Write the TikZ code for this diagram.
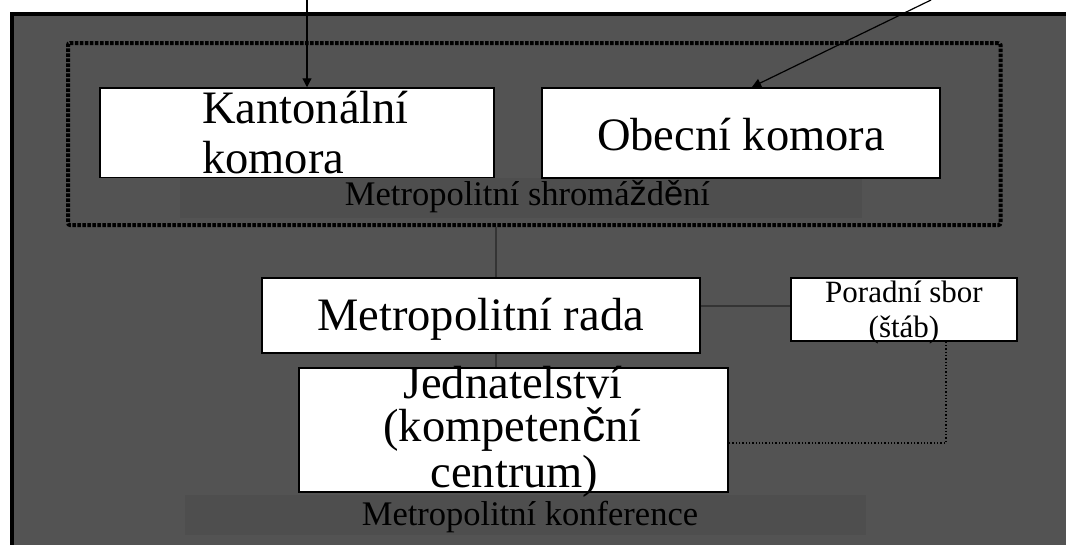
\documentclass[tikz,border=0pt]{standalone}
\usepackage{fontspec}
\setmainfont{Liberation Serif}
\newfontfamily\sansx{Liberation Sans}
\usetikzlibrary{arrows.meta}
\definecolor{bggray}{HTML}{535353}
\definecolor{bandgray}{HTML}{4E4E4E}
\definecolor{conngray}{HTML}{343434}
\newcommand\fbig{\fontsize{46.5}{50}\selectfont}
\newcommand\fmid{\fontsize{34.5}{38}\selectfont}
\newcommand\fsml{\fontsize{31}{35}\selectfont}
\begin{document}
\begin{tikzpicture}[x=1pt,y=-1pt,
  box/.style={draw=black, fill=white, line width=1.5pt, inner sep=0pt},
  assembly/.style={draw=black, line width=4pt, dash pattern=on 3.5pt off 1.5pt, rounded corners=2pt, inner sep=0pt},
  txt/.style={anchor=base, inner sep=0pt, text=black},
  arr/.style={draw=black, line width=1.2pt, -{Triangle[length=9pt,width=9pt]}},
  conn/.style={draw=conngray, line width=2pt},
  thin dots/.style={draw=black, line width=1.3pt, dotted}]
\useasboundingbox (0,0) rectangle (1066,544);
\clip (0,0) rectangle (1066,544);
\fill[white] (0,0) rectangle (1066,544);
\draw[line width=4pt, fill=bggray] (12,14) rectangle (1100,600);
% label bands
\fill[bandgray] (180,178) rectangle (862,218);
\fill[bandgray] (185,495) rectangle (866,535);
% dotted assembly frame
\node[assembly, minimum width=932.5pt, minimum height=182pt] (asm) at (534.25,134) {};
% boxes
\node[box, minimum width=394pt, minimum height=89.5pt] (kant) at (297,132.75) {};
\node[box, minimum width=398pt, minimum height=90pt] (obec) at (741,133) {};
\node[box, minimum width=438pt, minimum height=75pt] (rada) at (481,315.5) {};
\node[box, minimum width=226pt, minimum height=63pt] (porad) at (904,309.5) {};
\node[box, minimum width=429pt, minimum height=124pt] (jedn) at (513.5,430) {};
% texts
\node[txt, anchor=base west, font=\fbig] (kant1) at (202,123) {Kantonální};
\node[txt, anchor=base west, font=\fbig] (kant2) at (202,173) {komora};
\node[txt, font=\fbig] (obect) at (741,150) {Obecní komora};
\node[txt, font=\fmid] (shrom) at (527.5,205) {Metropolitní shromá{\sansx ž}d{\sansx ě}ní};
\node[txt, font=\fbig] (radat) at (480.5,330) {Metropolitní rada};
\node[txt, font=\fsml] (por1) at (904,302) {Poradní sbor};
\node[txt, font=\fsml] (por2) at (904,337) {(štáb)};
\node[txt, font=\fbig] (jed1) at (513,398) {Jednatelství};
\node[txt, font=\fbig] (jed2) at (512.5,441) {(kompeten{\sansx č}ní};
\node[txt, font=\fbig] (jed3) at (514.5,487) {centrum)};
\node[txt, font=\fmid] (konf) at (530,525) {Metropolitní konference};
% connectors
\coordinate (vx) at (496,0);
\draw[conn] (asm.south -| vx) -- (rada.north -| vx);
\draw[conn] (rada.south -| vx) -- (jedn.north -| vx);
\draw[conn] ([yshift=3.5pt]porad.west -| rada.east) -- ([yshift=3.5pt]porad.west);
\draw[thin dots] ([xshift=42pt]porad.south) |- ([yshift=-13pt]jedn.east);
% incoming arrows
\coordinate (src1) at (307,0);
\coordinate (src2) at (931,0);
\coordinate (tip2) at (752,87);
\draw[arr] (src1) -- (src1 |- kant.north);
\draw[arr] (src2) -- (tip2);
\end{tikzpicture}
\end{document}
